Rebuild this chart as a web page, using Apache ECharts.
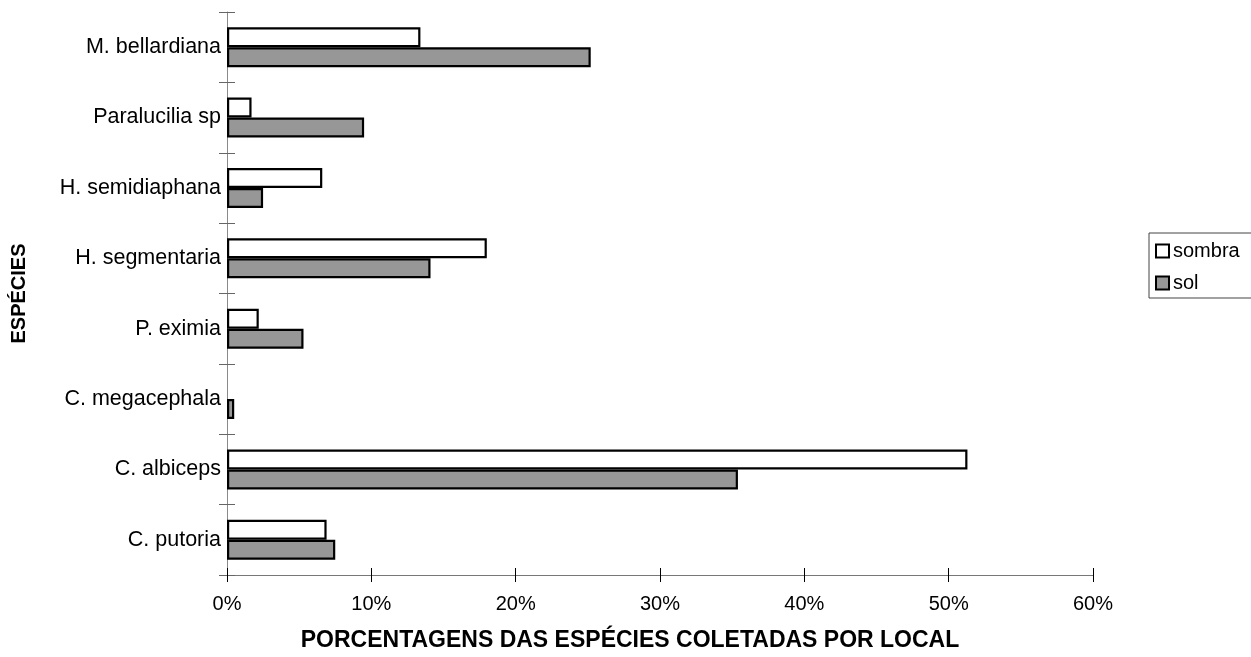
<!DOCTYPE html>
<html>
<head>
<meta charset="utf-8">
<script src="https://cdn.jsdelivr.net/npm/echarts@6/dist/echarts.min.js"></script>
<style>
  html, body { margin: 0; padding: 0; background: #fff; }
  #chart { width: 1251px; height: 657px; }
</style>
</head>
<body>
<div id="chart"></div>
<script>
// Species, top to bottom
const species = [
  'M. bellardiana',
  'Paralucilia sp',
  'H. semidiaphana',
  'H. segmentaria',
  'P. eximia',
  'C. megacephala',
  'C. albiceps',
  'C. putoria'
];

// Percentage of species collected per site (%)
const sombra = [13.4, 1.7, 6.6, 18.0, 2.2, 0, 51.3, 6.9];
const sol    = [25.2, 9.5, 2.5, 14.1, 5.3, 0.5, 35.4, 7.5];

const xTicks = [0, 10, 20, 30, 40, 50, 60];

const FONT = '"Liberation Sans", Arial, sans-serif';

// zero values get no outline so they stay invisible
const asBarData = arr => arr.map(v => v === 0 ? { value: v, itemStyle: { borderWidth: 0 } } : v);

const chart = echarts.init(document.getElementById('chart'), null, { renderer: 'canvas' });

const catAxisBase = {
  type: 'category',
  data: species,
  inverse: true,
  axisLine: { show: true, lineStyle: { color: '#8a8a8a', width: 1 } },
  splitLine: { show: false }
};

const option = {
  backgroundColor: '#fff',
  animation: false,
  textStyle: { fontFamily: FONT },
  grid: { left: 227, right: 158, top: 12, bottom: 77, containLabel: false },
  legend: {
    orient: 'vertical',
    left: 1149,
    top: 233,
    data: ['sombra', 'sol'],
    itemWidth: 13,
    itemHeight: 13,
    itemGap: 12,
    icon: 'rect',
    padding: [8, 40, 5, 6],
    borderColor: '#444',
    borderWidth: 1,
    textStyle: { fontFamily: FONT, fontSize: 20, color: '#000', padding: [0, 0, 0, -1] }
  },
  xAxis: [
    {
      type: 'value',
      min: 0,
      max: xTicks[xTicks.length - 1],
      interval: 10,
      position: 'bottom',
      name: 'PORCENTAGENS DAS ESPÉCIES COLETADAS POR LOCAL',
      nameLocation: 'middle',
      nameGap: 54,
      nameTextStyle: {
        fontFamily: FONT, fontSize: 23, fontWeight: 'bold', color: '#000',
        padding: [0, 60, 0, 0]
      },
      axisLine: { show: true, lineStyle: { color: '#777', width: 1 } },
      axisTick: { show: true, length: 7, lineStyle: { color: '#000', width: 1 } },
      axisLabel: {
        margin: 19,
        fontFamily: FONT, fontSize: 20, color: '#000',
        formatter: '{value}%'
      },
      splitLine: { show: false }
    },
    {
      // upper half of the crossing tick marks
      type: 'value',
      min: 0,
      max: xTicks[xTicks.length - 1],
      interval: 10,
      position: 'bottom',
      offset: 0,
      axisLine: { show: false },
      axisTick: { show: true, inside: true, length: 7, lineStyle: { color: '#000', width: 1 } },
      axisLabel: { show: false },
      splitLine: { show: false }
    }
  ],
  yAxis: [
    Object.assign({}, catAxisBase, {
      name: 'ESPÉCIES',
      nameLocation: 'middle',
      nameGap: 198,
      nameRotate: 90,
      nameTextStyle: { fontFamily: FONT, fontSize: 20, fontWeight: 'bold', color: '#000' },
      axisTick: { show: true, length: 8, lineStyle: { color: '#666', width: 1 } },
      axisLabel: { margin: 6, fontFamily: FONT, fontSize: 21.5, color: '#000' }
    }),
    Object.assign({}, catAxisBase, {
      position: 'left',
      offset: 0,
      axisLine: { show: false },
      axisTick: { show: true, inside: true, length: 8, lineStyle: { color: '#666', width: 1 } },
      axisLabel: { show: false }
    })
  ],
  series: [
    {
      name: 'sombra',
      type: 'bar',
      xAxisIndex: 0,
      yAxisIndex: 0,
      data: asBarData(sombra),
      barWidth: 20,
      barGap: '0%',
      itemStyle: { color: '#ffffff', borderColor: '#000', borderWidth: 2.2 }
    },
    {
      name: 'sol',
      type: 'bar',
      xAxisIndex: 0,
      yAxisIndex: 0,
      data: asBarData(sol),
      barWidth: 20,
      barGap: '0%',
      itemStyle: { color: '#979797', borderColor: '#000', borderWidth: 2.2 }
    }
  ]
};

chart.setOption(option);
</script>
</body>
</html>
